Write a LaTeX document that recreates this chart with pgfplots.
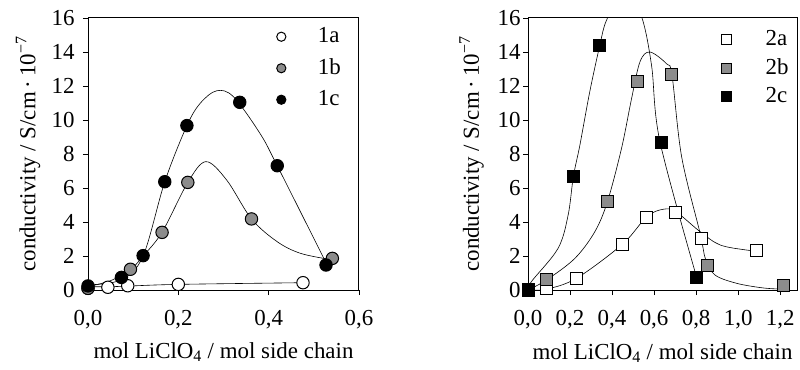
\documentclass[border=0pt]{standalone}
\usepackage{pgfplots}
\pgfplotsset{compat=1.18}
\usepackage{fontspec}
\setmainfont{Liberation Serif}

\pgfplotstableread{
x y
0 0.1
0.044 0.16
0.088 0.25
0.2 0.33
0.476 0.43
}\onea
\pgfplotstableread{
x y
0 0.1
0.094 1.22
0.164 3.39
0.221 6.33
0.362 4.18
0.541 1.86
}\oneb
\pgfplotstableread{
x y
0 0.24
0.074 0.74
0.122 2.02
0.170 6.37
0.219 9.67
0.336 11.04
0.419 7.31
0.527 1.47
}\onec
\pgfplotstableread{
x y
0.089 0.07
0.232 0.7
0.451 2.7
0.565 4.29
0.704 4.55
0.824 3.0
1.086 2.31
}\twoa
\pgfplotstableread{
x y
0.088 0.59
0.378 5.18
0.522 12.25
0.685 12.65
0.856 1.43
1.214 0.29
}\twob
\pgfplotstableread{
x y
0.0 0.0
0.216 6.68
0.342 14.41
0.634 8.69
0.803 0.72
}\twoc

\pgfplotsset{
  myaxis/.style={
    scale only axis,
    width=#1,
    height=272bp,
    ymin=0, ymax=16,
    ytick={0,2,...,16},
    tick align=outside,
    tick pos=left,
    major tick length=5bp,
    axis line style={line width=1bp},
    every tick/.style={line width=0.8bp, black},
    clip mode=individual,
    /pgf/number format/assume math mode=true,
    x tick label style={/pgf/number format/fixed, /pgf/number format/fixed zerofill, /pgf/number format/precision=1, /pgf/number format/use comma},
    xlabel={mol LiClO\textsubscript{4} / mol side chain},
    ylabel={conductivity / S/cm\,·\,10\textsuperscript{\char"2212 7}},
    legend cell align=left,
  },
  curve/.style={black, line width=0.6bp, smooth, tension=0.55, no markers, forget plot},
  cwhite/.style={only marks, mark=*, mark size=6.2bp, mark options={fill=white, draw=black, line width=1bp}},
  cgrey/.style={only marks, mark=*, mark size=6.2bp, mark options={fill=black!45, draw=black, line width=1bp}},
  cblack/.style={only marks, mark=*, mark size=6.2bp, mark options={fill=black, draw=black, line width=1bp}},
  swhite/.style={only marks, mark=square*, mark size=6bp, mark options={fill=white, draw=black, line width=1bp}},
  sgrey/.style={only marks, mark=square*, mark size=6bp, mark options={fill=black!45, draw=black, line width=1bp}},
  sblack/.style={only marks, mark=square*, mark size=6bp, mark options={fill=black, draw=black, line width=1bp}},
}

\begin{document}
\begin{tikzpicture}[font=\fontsize{23}{27}\selectfont]
\useasboundingbox (0,0) rectangle (800bp,370bp);

% ---------- left panel ----------
\begin{axis}[myaxis=271bp,
  at={(88bp,80bp)}, anchor=south west,
  xmin=0, xmax=0.6, xtick={0,0.2,0.4,0.6},
  x tick label style={yshift=-12bp},
  y tick label style={xshift=-5bp},
  x label style={at={(axis description cs:0.5,-0.25)}, anchor=base},
  y label style={at={(axis description cs:-0.221,0.5)}, anchor=center},
  legend image code/.code={\draw[#1] plot coordinates {(0bp,0bp)};},
  legend image post style={mark size=4.6bp},
  legend style={at={(rel axis cs:0.6956,0.976)}, anchor=north west, draw=none, fill=none,
    inner sep=0pt, row sep=7.5bp, column sep=30bp,
    nodes={inner sep=2bp, text height=16bp, text depth=4bp}},
]
\addplot[curve] coordinates {(0,0.2) (0.044,0.19) (0.088,0.23) (0.2,0.33) (0.476,0.43)};
\addplot[curve] coordinates {(0,0.2) (0.05,0.55) (0.094,1.2) (0.122,2.0) (0.164,3.4) (0.221,6.33) (0.261,7.55) (0.307,6.47) (0.362,4.18) (0.419,2.84) (0.47,2.16) (0.535,1.8)};
\addplot[curve] coordinates {(0,0.3) (0.074,0.6) (0.122,2.0) (0.170,6.37) (0.219,9.67) (0.249,11.0) (0.285,11.72) (0.322,11.37) (0.381,9.2) (0.419,7.31) (0.527,1.6)};
\addplot[cwhite] table[x=x,y=y] {\onea};
\addplot[cgrey] table[x=x,y=y] {\oneb};
\addplot[cblack] table[x=x,y=y] {\onec};
\legend{1a,1b,1c}
\end{axis}

% ---------- right panel ----------
\begin{axis}[myaxis=269bp,
  at={(528bp,80bp)}, anchor=south west,
  xmin=0, xmax=1.28, xtick={0,0.2,...,1.2},
  x tick label style={yshift=-12bp},
  y tick label style={xshift=1bp},
  x label style={at={(axis description cs:0.5,-0.254)}, anchor=base},
  y label style={at={(axis description cs:-0.21,0.5)}, anchor=center},
  legend image code/.code={\draw[#1] plot coordinates {(0bp,0bp)};},
  legend image post style={mark size=5bp},
  legend style={at={(rel axis cs:0.719,0.965)}, anchor=north west, draw=none, fill=none,
    inner sep=0pt, row sep=4.5bp, column sep=32bp,
    nodes={inner sep=2bp, text height=16bp, text depth=4bp}},
]
\addplot[curve] coordinates {(0,0) (0.088,0.05) (0.231,0.69) (0.45,2.7) (0.565,4.31) (0.644,4.75) (0.704,4.6) (0.819,3.43) (0.914,2.65) (1.04,2.35) (1.086,2.31)};
\addplot[curve] coordinates {(0,0) (0.088,0.59) (0.223,1.86) (0.318,3.43) (0.378,5.2) (0.445,8.33) (0.493,11.27) (0.533,13.43) (0.58,14.0) (0.66,13.3) (0.685,12.65) (0.731,7.84) (0.819,3.33) (0.845,1.8) (0.89,0.88) (0.994,0.39) (1.12,0.12) (1.214,0.05)};
\addplot[curve] coordinates {(0,0) (0.016,0.49) (0.143,2.45) (0.191,4.41) (0.216,6.68) (0.247,8.53) (0.294,11.67) (0.342,14.41) (0.374,15.88) (0.46,17.8) (0.54,16.1) (0.588,13.2) (0.628,8.72) (0.803,0.72)};
\addplot[swhite] table[x=x,y=y] {\twoa};
\addplot[sgrey] table[x=x,y=y] {\twob};
\addplot[sblack] table[x=x,y=y] {\twoc};
\legend{2a,2b,2c}
\end{axis}
\end{tikzpicture}
\end{document}
